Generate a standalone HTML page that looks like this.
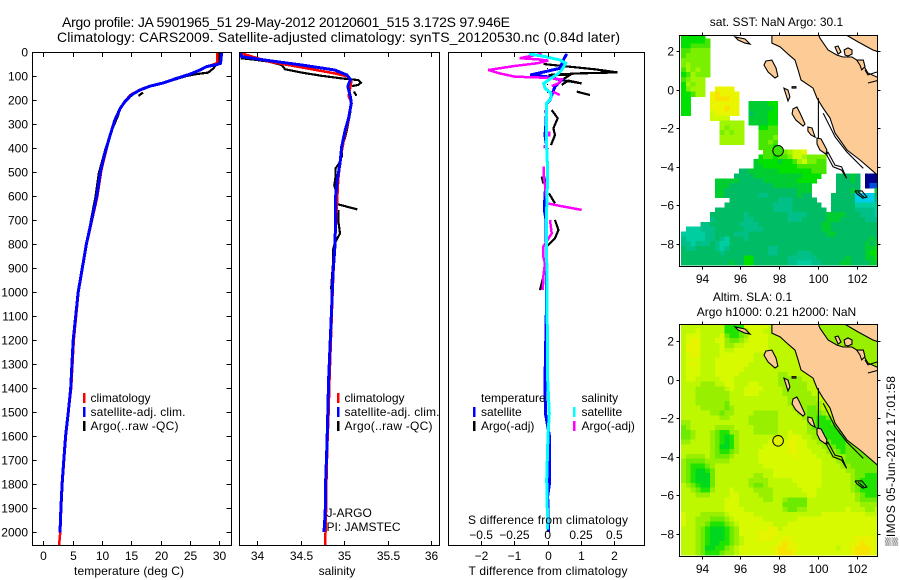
<!DOCTYPE html>
<html>
<head>
<meta charset="utf-8">
<title>Argo profile</title>
<style>
html,body{margin:0;padding:0;background:#fff;}
svg{display:block;font-family:"Liberation Sans",sans-serif;font-size:12px;fill:#000;}
text{fill:#000;}
</style>
</head>
<body>
<svg id="fig" width="900" height="580" viewBox="0 0 900 580" xmlns="http://www.w3.org/2000/svg">
<defs>
<clipPath id="clipT"><rect x="32.5" y="52" width="198.5" height="493"/></clipPath>
<clipPath id="clipS"><rect x="239.5" y="52" width="200" height="493"/></clipPath>
<clipPath id="clipD"><rect x="448.5" y="52" width="196" height="493"/></clipPath>
<clipPath id="clipM1"><rect x="679.5" y="35" width="198" height="232"/></clipPath>
<clipPath id="clipM2"><rect x="679.5" y="324.5" width="198" height="232"/></clipPath>
</defs>
<rect x="0" y="0" width="900" height="580" fill="#fff"/>
<g id="layer"></g>
<text x="62" y="27" font-size="14" textLength="448" lengthAdjust="spacing">Argo profile: JA 5901965_51 29-May-2012 20120601_515 3.172S 97.946E</text>
<text x="57" y="42" font-size="14" textLength="563" lengthAdjust="spacing">Climatology: CARS2009. Satellite-adjusted climatology: synTS_20120530.nc (0.84d later)</text>

<text x="129" y="575" text-anchor="middle" textLength="110">temperature (deg C)</text>
<text x="337" y="575" text-anchor="middle">salinity</text>
<text x="548" y="575" text-anchor="middle" textLength="159">T difference from climatology</text>
<text x="548" y="524" text-anchor="middle" textLength="160">S difference from climatology</text>

<g>
<rect x="83" y="393" width="2.5" height="10" fill="#f00"/>
<text x="90.5" y="402">climatology</text>
<rect x="83" y="407" width="2.5" height="10" fill="#00f"/>
<text x="90.5" y="416" textLength="95">satellite-adj. clim.</text>
<rect x="83" y="421" width="2.5" height="10" fill="#000"/>
<text x="90.5" y="430" textLength="88">Argo(..raw -QC)</text>
</g>
<g>
<rect x="337" y="393" width="2.5" height="10" fill="#f00"/>
<text x="344.5" y="402">climatology</text>
<rect x="337" y="407" width="2.5" height="10" fill="#00f"/>
<text x="344.5" y="416" textLength="95">satellite-adj. clim.</text>
<rect x="337" y="421" width="2.5" height="10" fill="#000"/>
<text x="344.5" y="430" textLength="88">Argo(..raw -QC)</text>
<text x="326.5" y="517">J-ARGO</text>
<text x="326.5" y="531">PI: JAMSTEC</text>
</g>
<g>
<text x="481" y="402">temperature</text>
<rect x="473" y="407" width="2.5" height="10" fill="#00f"/>
<text x="481" y="416">satellite</text>
<rect x="473" y="421" width="2.5" height="10" fill="#000"/>
<text x="481" y="430">Argo(-adj)</text>
<text x="581.5" y="402">salinity</text>
<rect x="573" y="407" width="2.5" height="10" fill="#0ff"/>
<text x="581.5" y="416">satellite</text>
<rect x="573" y="421" width="2.5" height="10" fill="#f0f"/>
<text x="581.5" y="430">Argo(-adj)</text>
</g>

<text x="776.5" y="26" text-anchor="middle">sat. SST: NaN Argo: 30.1</text>
<text x="752.5" y="301" text-anchor="middle">Altim. SLA: 0.1</text>
<text x="776.5" y="316" text-anchor="middle">Argo h1000: 0.21 h2000: NaN</text>
<text transform="translate(895,546) rotate(-90)" textLength="170">&#9618;IMOS 05-Jun-2012 17:01:58</text>
</svg>
<script>
/* ---------- profile data (depth in dbar) ---------- */
const depthTicks = [0,100,200,300,400,500,600,700,800,900,1000,1100,1200,1300,1400,1500,1600,1700,1800,1900,2000];
const tempTicks = [0,5,10,15,20,25,30];
const salTicks = [34,34.5,35,35.5,36];
const salTickLabels = ['34','34.5','35','35.5','36'];
const tDiffTicks = [-2,-1,0,1,2];
const tDiffLabels = ['\u22122','\u22121','0','1','2'];
const sDiffTicks = [-0.5,-0.25,0,0.25,0.5];
const sDiffLabels = ['\u22120.5','\u22120.25','0','0.25','0.5'];
const mapLonTicks = [94,96,98,100,102];
const mapLatTicks = [2,0,-2,-4,-6,-8];

const tempClimDepth = [0,45,50,61,75,92,110,129,142,158,179,207,235,283,346,422,492,603,800,1000,1200,1400,1500,1600,1700,1800,1900,2000,2054];
const tempClim = [29.6,29.6,29.2,27.9,26.8,25.1,22.8,20.5,18.2,16.4,14.8,13.9,13.1,12.2,11.4,10.6,9.9,9.2,7.4,6.0,5.2,4.75,4.3,3.85,3.55,3.25,3.05,2.9,2.7];
const tempSatDepth = [0,47,52,61,75,92,110,129,142,158,179,207,235,283,346,422,492,603,800,1000,1200,1400,1500,1600,1700,1800,1900,2002];
const tempSat = [30.4,30.2,29.6,27.8,26.7,25,22.7,20.4,18.2,16.5,15,13.9,13.1,12.2,11.4,10.5,9.8,9.1,7.35,5.95,5.1,4.67,4.26,3.8,3.5,3.2,3.0,2.85];
const tempArgoDepth = [0,40,68,86,92,100,117,130,142,151,175,207,null,169,183,null,255,346,408,506,603,800,1000];
const tempArgo = [30.1,29.8,29,28.1,26.1,24.4,22.1,20.4,18.2,17,15.3,13.9,null,17,16.2,null,12.9,11.35,10.55,9.45,8.9,7.35,5.9];

const salClimDepth = [0,8,40,64,89,103,124,186,207,283,338,435,533,672,825,921,1061,1367,1505,1644,1783,1922,2054];
const salClim = [33.8,33.84,34.13,34.51,34.89,35.05,35.08,35.05,35.08,35.05,35.01,34.96,34.93,34.91,34.89,34.875,34.86,34.83,34.82,34.805,34.795,34.79,34.78];
const salSatDepth = [0,8,19,36,54,75,96,114,144,186,214,276,325,394,464,533,603,686,714,825,921,1061,1367,1505,1644,1783,1922,2000];
const salSat = [33.8,33.81,33.82,34.13,34.51,34.89,35.03,35.07,35.04,35.07,35.08,35.05,35.01,34.97,34.95,34.92,34.90,34.90,34.90,34.89,34.87,34.855,34.82,34.81,34.80,34.786,34.78,34.767];
const salArgoDepth = [26,33,40,54,72,86,99,110,117,128,137,142,null,165,182,null,207,249,325,367,394,436,464,485,519,554,589,631,635,656,null,658,700,756,797,825,881,978,1047];
const salArgo = [33.81,33.99,34.13,34.28,34.32,34.51,34.74,34.97,35.16,35.19,35.16,35.09,null,35.11,35.14,null,35.08,35.07,35.03,35.0,34.97,34.97,34.94,34.90,34.90,34.885,34.91,34.91,34.93,35.15,null,34.93,34.93,34.95,34.89,34.87,34.87,34.85,34.855];

const tDiffSatDepth = [8,33,68,82,96,103,117,144,172,200,214,297,346,394,506,589,658,700,1000,1367,1505,1600,1800,1850,2000];
const tDiffSat = [0.57,0.47,0.37,-0.08,-0.53,-0.03,0.42,0.22,0.14,0.07,-0.03,-0.05,-0.08,-0.03,0,-0.08,-0.10,-0.05,-0.03,-0.08,-0.07,0.05,0.05,0,0.02];
const tDiffArgoDepth = [50,58,72,85,89,96,96,117,131,119,137,null,165,179,null,242,276,318,346,388,null,519,547,null,589,631,null,700,742,776,811,null,936,992];
const tDiffArgo = [-0.13,0.42,1.42,2.1,0.92,0.02,0.67,0.42,1.02,0.62,0.42,null,0.87,1.27,null,0.12,0.3,0.17,0.22,0.1,null,-0.18,-0.13,null,0.04,0.22,null,0.22,0.32,0.22,-0.03,null,-0.13,-0.23];
const sDiffSatDepth = [8,19,33,47,75,89,117,131,151,172,193,214,367,506,700,1000,1367,1505,1600,1783,1990];
const sDiffSat = [-0.14,-0.02,0.09,0.135,0.105,0.08,0.005,-0.03,-0.02,0.025,0.025,-0.01,-0.01,0,-0.01,-0.005,0,0.012,0.002,-0.0075,0];
const sDiffArgoDepth = [8,26,31,36,47,58,75,89,103,107,114,131,142,null,165,179,null,242,256,null,332,353,null,388,401,null,478,519,554,603,631,640,658,null,700,756,811,853,881,936,992];
const sDiffArgo = [-0.045,-0.21,-0.07,0.005,-0.08,-0.245,-0.445,-0.36,-0.245,-0.02,0.105,0.08,0.03,null,0.04,0.09,null,-0.02,-0.015,null,0.01,0.01,null,-0.025,-0.02,null,-0.03,-0.03,-0.02,-0.012,0,0.08,0.255,null,0.017,0.03,-0.033,-0.033,-0.02,-0.033,-0.037];
const zeroLineDepth = [0,1100];
const zeroLineValue = [0,0];

/* ---------- map data: colour level per 0.25 degree cell, '.' = NaN ---------- */
const sstGrid = [
"77777","777778","778888","889999","899999","999999","9a9999","8a9a99","78a999",
"89aaa","7a9aa","79aaa..cccc","778aa.cdcccc","77....cdddcc",
"77....cccccc..666677","77....cccdcc..666667","77....bccccc..566677",
"......bbbb....666677","........aaaaa.666677","........a9aaa...7788",
"........9a9aa...8888","........aaaaa...8889","........aaaaa...8898",
"................8887",".................887.9abbc",
"................7887889bba9999",
"...............677776778ab9988",
"...............667777777888888",
"............556666667777777888",
"...........555566666666667777...55565.000",
".......666665555566666667777....55565.000",
".......66655555555566666666.....55555.011",
".......66555555555555555666.....55565...6",
".......66555555544555555655....5555522225",
"..........555555555544455555...5555522224",
".........55555555554444555555..5555533333",
".......55555555555544445555555.5555544443",
"...... 55555 55455 55555 54444 55556 66655 54443",
"...... 45555 55445 55555 54445 55556 66555 55444",
".... 44 55555 54444 55555 55555 55566 55555 55555",
". 33344 45555 55444 45555 55555 55566 55555 55555",
"3 33334 45555 44455 55555 55555 55556 65555 55555",
"4 33334 45435 55455 55555 55555 55555 55555 55565",
"4 43444 54335 55555 55555 55555 55555 55555 55656",
"5 44555 54345 55555 55445 55555 55555 55555 55667",
"5 55555 55455 55555 55445 55544 45555 55555 55677",
"5 55555 55555 55775 55555 54444 44555 55565 55667",
"5 55555 55556 55775 55555 54433 34455 55665 55566"
];
const slaGrid = [
"aaaaa aaaa7 777bb bbbaa aaaaa aaa99 99999 99999 9",
"aaaba aaaa7 7789b bbaaa aaaaa aaa99 99999 99999 9",
"abbba aaab8 7789b bbbaa aaaaa aaa99 99999 99999 9",
"abcca aabb9 889ab bbbaa aaaaa aaaa9 99999 99999 9",
"accca aaab9 9aabb bbbaa aaaaa aaaa9 99999 99999 9",
"accca aaaba abbbb bbbaa aaaaa aaaa9 99999 99999 9",
"abcca aaabb bbbbb aaaaa aaaaa aaaaa 99999 99999 9",
"abbba aabbb bbbbb aaaaa aaaaa aaaaa 99999 99999 9",
"abcba aabbb bbbba aaaaa aaaaa aaaaa 99999 99999 9",
"abbba aabbb bbbaa aaaaa aaaaa aaaaa aaaaa aaaaa a",
"abbba aabbb bbaaa aaaaa 99aaa aaaaa aaaaa aaaaa a",
"abbaa aaabb baaaa aaaaa 99999 aaaaa aaaaa aaaaa a",
"aaaa9 99aab baaab baaaa 99999 9aaaa aaaaa aaaaa a",
"aaa99 9999a baabb bbaaa a9999 9aaaa aaaaa aaaaa a",
"aaa99 99999 aaabb baaaa a9999 99aaa aaaaa aaaaa a",
"aaa99 99999 aaaaa aaaaa aa999 999aa aaaaa aaaaa a",
"aaa99 99998 aaaaa aaaaa aa999 9999a aaaaa aaaaa a",
"aaaa9 99998 9aaaa aaaaa aaa99 9889a aaaaa aaaaa a",
"aaaaa a9989 9aaaa 99999 aaaa9 98889 aaaaa aaaaa a",
"aaaaa aaa99 aaaa9 99999 aaaaa 98877 89aaa aaaaa a",
"99aaa aaaaa aaaa9 99999 aaaaa a8877 7889a aaaaa a",
"89aaa aa999 9aaaa 99999 aaaaa a9877 77889 aaaaa a",
"889aa a9877 99aaa 99999 aabaa a9987 77789 9aaaa a",
"889aa a9876 79aaa aaaaa aabcb aa998 77778 99aaa a",
"99aaa a9876 79aaa aaabb bbccb baa99 87778 899aa a",
"aaaaa a9866 79aaa aabbb bbccb baaa9 98778 8899a a",
"aaaaa a9877 89aaa abbbb bbccb bbaaa 99878 88899 a",
"a9999 a9888 9aaaa abbbb bbbcb bbbaa a9998 88889 9",
"98888 99999 aaaaa abbbb bbbbb bbbba aa998 88888 8",
"98777 89aaa aaaaa aabbb bbbbb bbbba aaa99 88888 8",
"98766 78aaa aaaaa aaaab bbbbb bbbba aaaa9 98888 8",
"98766 68aaa aaaaa 99aab bbbbb bbbba aaaaa 98877 7",
"98766 68aaa aaaa9 999aa aaabb bbbba aaaaa 98777 7",
"a9876 68aaa aaaa9 889aa aaaab bbbba aaaaa 98777 7",
"aa987 79aaa baaaa 9999a aaaaa bbbaa aaaaa 98777 7",
"aaa99 9aaaa bbaaa a999a aaaaa abbaa aaaaa a9877 7",
"aaaaa aaaab bbaaa aa99a a9888 8aaaa aaaaa a9888 8",
"aaaaa aaaab bbaaa aaaaa a8888 8aaaa aaaaa aa999 9",
"aaaaa aaaab bbbaa aaaaa a9889 9aaaa aaaab aaa99 a",
"baaa9 9999a bbbbb aaaaa aaaaa aaaab bbbbb bbbaa a",
"baa99 98889 abbbb bbaaa aaaab bbbbb bbbbb bbbbb b",
"baa99 87778 9abbb bbbba aabbb bbbbb bbbbb bbbbb b",
"aaa98 76667 89bbb bbbcc abbbb bbbbb bbbbb bbbbb b",
"aaa98 76667 89bbb bcccc bbbbb bbbbb bbbbb bbbbb b",
"aaa98 76667 89abb bcccb bccbb bbbbb bbbbb bcccc b",
"aaa98 76677 89abb bbbbb cdccb bbbbb bbbbb ccdcc b",
"aaa98 66778 9abbb bbbbc ddccb bbbbb bbabb cdddc b",
"aaa98 77789 9abbb bbbbc dddcb bbbbb bbbbb cdddc b"
];

/* ---------- coastlines as lon / lat ---------- */
const sumatraLon = [97.63,97.63,98.05,98.46,98.82,98.98,99.13,99.75,99.96,100.27,100.63,100.89,101.51,102.18,103.3,103.3,103.06,102.59,102.44,102.18,101.77,101.30,100.99,100.53,100.11,100.01];
const sumatraLat = [2.93,2.41,2.21,1.84,1.53,1.02,0.50,0.08,-0.44,-0.95,-1.47,-2.25,-3.13,-3.65,-4.62,0.60,0.65,0.86,1.12,1.43,1.69,1.69,1.79,2.05,2.67,2.93];
const malayaLon = [101.30,102.08,102.85,103.3,103.3];
const malayaLat = [2.93,2.47,2.05,1.9,2.93];
const islandNames = ['simeulue','nias','banyak','tuangku','top','batu','siberut','riau-a','riau-b','riau-c'];
const islandLons = [
[97.32,97.63,97.84,97.94,97.79,97.43,97.22],
[98.72,98.92,99.08,99.34,99.24,98.87,98.67],
[98.25,98.46,98.56,98.46,98.36],
[98.67,98.87,98.87,98.67],
[95.72,96.24,96.50,96.24,95.88],
[99.49,99.70,99.86,99.65,99.49],
[99.96,100.17,100.47,100.42,100.11,99.96],
[101.36,101.56,101.77,101.77,101.56,101.41],
[100.89,101.05,101.2,101.05],
[102.01,102.35,102.44,102.27,102.18]
];
const islandLats = [
[1.48,1.53,1.12,0.70,0.60,0.91,1.27],
[-1.0,-0.9,-1.21,-1.78,-1.89,-1.58,-1.26],
[0.08,-0.02,-0.38,-0.59,-0.28],
[0.15,0.15,0.08,0.08],
[2.73,2.62,2.36,2.41,2.57],
[-1.94,-1.99,-2.46,-2.35,-2.15],
[-2.51,-2.56,-3.13,-3.34,-3.13,-2.82],
[2.05,2.16,2.05,1.84,1.74,1.79],
[2.21,2.26,1.95,1.84],
[1.53,1.53,1.19,1.02,1.27]
];
const outlineNames = ['pagai-chain','shelf-line','meridian','enggano','enggano-inner','riau-line-a','riau-line-b'];
const outlineLons = [
[100.51,100.89,101.23,101.49,101.23,100.79,100.46,100.51],
[100.28,100.63,100.89,101.49,102.18,102.35],
[100.03,100.03],
[101.92,102.28,102.54,102.33,102.03,101.92],
[102.07,102.38],
[102.44,102.59,103.06],
[102.59,103.2]
];
const outlineLats = [
[-3.22,-3.91,-4.0,-4.6,-4.17,-4.0,-3.39,-3.22],
[-1.23,-1.92,-2.44,-3.22,-3.91,-4.08],
[-0.44,-2.52],
[-5.25,-5.25,-5.56,-5.62,-5.41,-5.25],
[-5.31,-5.56],
[1.02,0.76,0.91],
[0.34,0.5]
];
const floatLon = 97.946;
const floatLat = -3.172;

const sstColors = {
 '0':'#00008c','1':'#0050dc','2':'#00cde6','3':'#00cda0','4':'#00c088','5':'#00bc64',
 '6':'#00cd32','7':'#00e100','8':'#46e600','9':'#78f000','a':'#a0f500','b':'#cdfa00',
 'c':'#ebf500','d':'#fae100'
};
const slaColors = {
 '6':'#00d820','7':'#20e400','8':'#6cea00','9':'#98f000','a':'#bef800','b':'#d7fa00',
 'c':'#e6f400','d':'#f6e400'
};

/* ---------- axis functions ---------- */
const SVGNS = 'http://www.w3.org/2000/svg';
const layer = document.getElementById('layer');
const depthY = d => 52 + 0.24 * d;
const tempX = v => 43.3 + 5.87 * v;
const salX = v => 344.3 + 87 * (v - 35);
const tDiffX = v => 547.7 + 33.3 * v;
const sDiffX = v => 547.7 + 133.2 * v;
const lonX = v => 701.7 + 19.35 * (v - 94);
const lat1Y = v => 51 + 19.3 * (2 - v);
const lat2Y = v => 341 + 19.3 * (2 - v);

function mk(tag, attrs, parent) {
  const el = document.createElementNS(SVGNS, tag);
  for (const k in attrs) el.setAttribute(k, attrs[k]);
  (parent || layer).appendChild(el);
  return el;
}

function drawSeries(name, depths, values, xf, color, width, clip) {
  let d = '';
  let pen = false;
  depths.forEach((dep, i) => {
    if (dep === null || values[i] === null) { pen = false; return; }
    d += (pen ? 'L' : 'M') + xf(values[i]).toFixed(1) + ' ' + depthY(dep).toFixed(1);
    pen = true;
  });
  const el = mk('path', {d: d, fill: 'none', stroke: color, 'stroke-width': width, 'clip-path': 'url(#' + clip + ')', 'shape-rendering': 'crispEdges'});
  
  
  return el;
}

function drawBox(name, x0, y0, x1, y1) {
  const el = mk('rect', {x: x0, y: y0, width: x1 - x0, height: y1 - y0, fill: 'none', stroke: '#000', 'stroke-width': 1, 'shape-rendering': 'crispEdges'});
  
  
}

function tick(x1, y1, x2, y2) {
  const el = mk('line', {x1: x1, y1: y1, x2: x2, y2: y2, stroke: '#000', 'stroke-width': 1, 'shape-rendering': 'crispEdges'});
  
  
}

function label(str, x, y, anchor) {
  const el = mk('text', {x: x, y: y, 'text-anchor': anchor});
  el.textContent = str;
  
  
}

/* ---------- profile panels ---------- */
drawSeries('temperature-argo-line', tempArgoDepth, tempArgo, tempX, '#000', 2.2, 'clipT');
drawSeries('temperature-climatology-line', tempClimDepth, tempClim, tempX, '#f00', 2.5, 'clipT');
drawSeries('temperature-satellite-line', tempSatDepth, tempSat, tempX, '#00f', 3, 'clipT');
drawBox('temperature-plot-frame', 32.5, 52.5, 231.5, 545.5);
depthTicks.forEach(d => {
  const y = Math.round(depthY(d)) + 0.5;
  tick(32.5, y, 36.5, y);
  tick(226.5, y, 231.5, y);
  label(String(d), 28, y + 4, 'end');
});
tempTicks.forEach(v => {
  const x = Math.round(tempX(v)) + 0.5;
  tick(x, 52.5, x, 57);
  tick(x, 541, x, 545.5);
  label(String(v), x, 560, 'middle');
});

drawSeries('salinity-argo-line', salArgoDepth, salArgo, salX, '#000', 2.2, 'clipS');
drawSeries('salinity-climatology-line', salClimDepth, salClim, salX, '#f00', 2.5, 'clipS');
drawSeries('salinity-satellite-line', salSatDepth, salSat, salX, '#00f', 3, 'clipS');
drawBox('salinity-plot-frame', 239.5, 52.5, 439.5, 545.5);
salTicks.forEach((v, i) => {
  const x = Math.round(salX(v)) + 0.5;
  tick(x, 52.5, x, 57);
  tick(x, 541, x, 545.5);
  label(salTickLabels[i], x, 560, 'middle');
});

const zeroEl = drawSeries('difference-zero-line', zeroLineDepth, zeroLineValue, tDiffX, '#000', 1, 'clipD');
zeroEl.setAttribute('stroke-dasharray', '1 7');
drawSeries('t-difference-argo-line', tDiffArgoDepth, tDiffArgo, tDiffX, '#000', 2.2, 'clipD');
drawSeries('t-difference-satellite-line', tDiffSatDepth, tDiffSat, tDiffX, '#00f', 3, 'clipD');
drawSeries('s-difference-argo-line', sDiffArgoDepth, sDiffArgo, sDiffX, '#f0f', 2.5, 'clipD');
drawSeries('s-difference-satellite-line', sDiffSatDepth, sDiffSat, sDiffX, '#0ff', 3, 'clipD');
drawBox('difference-plot-frame', 448.5, 52.5, 644.5, 545.5);
tDiffTicks.forEach((v, i) => {
  const x = Math.round(tDiffX(v)) + 0.5;
  tick(x, 52.5, x, 57);
  tick(x, 541, x, 545.5);
  label(tDiffLabels[i], x, 560, 'middle');
});
sDiffTicks.forEach((v, i) => {
  label(sDiffLabels[i], sDiffX(v), 539, 'middle');
});

/* ---------- maps ---------- */
function drawMap(prefix, grid, colors, latY, clip, frameTop, frameBottom, circleFill, xLabelY) {
  const g = mk('g', {'clip-path': 'url(#' + clip + ')'});
  
  
  const lon0 = 92.93;
  const lat0 = 2.9;
  const step = 0.25;
  grid.forEach((rawRow, r) => {
    const row = rawRow.replace(/ /g, '');
    for (let c = 0; c < row.length; c++) {
      const code = row[c];
      if (!colors[code]) continue;
      const lon = lon0 + c * step;
      const lat = lat0 - r * step;
      const cell = mk('rect', {
        x: lonX(lon).toFixed(2),
        y: latY(lat).toFixed(2),
        width: (lonX(lon + step) - lonX(lon) + 0.4).toFixed(2),
        height: (latY(lat - step) - latY(lat) + 0.4).toFixed(2),
        fill: colors[code],
        'shape-rendering': 'crispEdges'
      }, g);
      
      
    }
  });
  const poly = (lons, lats, fill, closed, name) => {
    let d = '';
    lons.forEach((v, i) => { d += (i ? 'L' : 'M') + lonX(v).toFixed(1) + ' ' + latY(lats[i]).toFixed(1); });
    if (closed) d += 'Z';
    const p = mk('path', {d: d, fill: fill, stroke: '#000', 'stroke-width': 1.1}, g);
    
    
  };
  poly(sumatraLon, sumatraLat, '#fdcb96', true, 'sumatra-land');
  poly(malayaLon, malayaLat, '#fdcb96', true, 'malaya-land');
  islandLons.forEach((lons, i) => {
    poly(lons, islandLats[i], '#fdcb96', true, 'island-' + islandNames[i]);
  });
  outlineLons.forEach((lons, i) => {
    poly(lons, outlineLats[i], 'none', false, 'coast-' + outlineNames[i]);
  });
  const circle = mk('circle', {cx: lonX(floatLon).toFixed(1), cy: latY(floatLat).toFixed(1), r: 5.3, fill: circleFill, stroke: '#000', 'stroke-width': 1}, g);
  
  

  drawBox(prefix + '-map-frame', 679.5, frameTop, 877.5, frameBottom);
  mapLonTicks.forEach(v => {
    const x = Math.round(lonX(v)) + 0.5;
    tick(x, frameTop - 3, x, frameTop);
    tick(x, frameBottom, x, frameBottom + 3);
    label(String(v), x, xLabelY, 'middle');
  });
  mapLatTicks.forEach(v => {
    const y = Math.round(latY(v)) + 0.5;
    tick(676.5, y, 679.5, y);
    tick(877.5, y, 880.5, y);
    label(v < 0 ? '\u2212' + (-v) : String(v), 674, y + 4, 'end');
  });
}
drawMap('sst', sstGrid, sstColors, lat1Y, 'clipM1', 35.5, 266.5, '#3ce10a', 283);
drawMap('sla', slaGrid, slaColors, lat2Y, 'clipM2', 324.5, 556.5, '#e0f000', 573);
</script>
</body>
</html>
